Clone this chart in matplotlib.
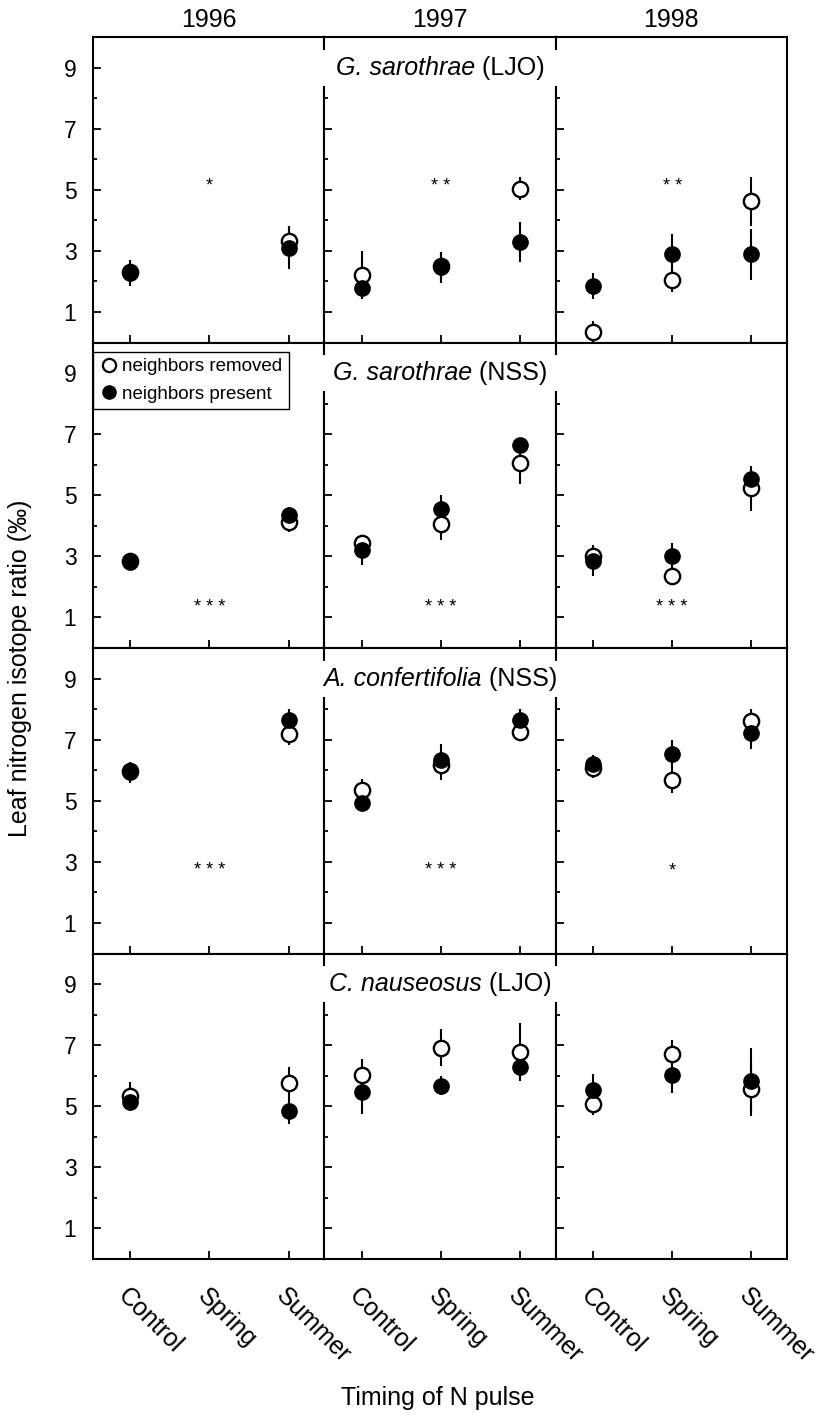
import matplotlib
matplotlib.use("Agg")
import matplotlib.pyplot as plt
import numpy as np
from matplotlib.patches import Rectangle
from matplotlib.lines import Line2D
from matplotlib.offsetbox import TextArea, HPacker, AnchoredOffsetbox

plt.rcParams.update({
    "font.family": ["Liberation Sans", "DejaVu Sans"],
    "axes.linewidth": 1.5,
})

YEARS = ["1996", "1997", "1998"]
TIMINGS = ["Control", "Spring", "Summer"]
SPECIES = ["G. sarothrae", "G. sarothrae", "A. confertifolia", "C. nauseosus"]
SITES = ["LJO", "NSS", "NSS", "LJO"]
nan = np.nan

# values per species: 1996 C/Sp/Su, 1997 C/Sp/Su, 1998 C/Sp/Su
gs_ljo_removed = [2.30, nan, 3.32, 2.21, 2.50, 5.03, 0.33, 2.06, 4.62]
gs_ljo_removed_se = [0.30, nan, 0.49, 0.77, 0.45, 0.38, 0.37, 0.41, 0.79]
gs_ljo_present = [2.28, nan, 3.11, 1.78, 2.46, 3.30, 1.86, 2.89, 2.89]
gs_ljo_present_se = [0.43, nan, 0.70, 0.35, 0.50, 0.65, 0.43, 0.65, 0.83]

gs_nss_removed = [2.85, nan, 4.14, 3.45, 4.07, 6.07, 3.00, 2.37, 5.23]
gs_nss_removed_se = [0.10, nan, 0.33, 0.20, 0.53, 0.71, 0.38, 0.30, 0.73]
gs_nss_present = [2.82, nan, 4.36, 3.21, 4.55, 6.63, 2.86, 3.00, 5.53]
gs_nss_present_se = [0.12, nan, 0.27, 0.50, 0.47, 0.20, 0.50, 0.45, 0.36]

ac_nss_removed = [5.98, nan, 7.17, 5.36, 6.18, 7.25, 6.07, 5.69, 7.61]
ac_nss_removed_se = [0.30, nan, 0.35, 0.36, 0.49, 0.30, 0.32, 0.42, 0.41]
ac_nss_present = [5.93, nan, 7.66, 4.92, 6.35, 7.66, 6.20, 6.53, 7.22]
ac_nss_present_se = [0.35, nan, 0.33, 0.15, 0.51, 0.33, 0.29, 0.47, 0.51]

cn_ljo_removed = [5.35, nan, 5.76, 6.03, 6.92, 6.79, 5.06, 6.71, 5.55]
cn_ljo_removed_se = [0.44, nan, 0.52, 0.52, 0.61, 0.94, 0.33, 0.47, 0.87]
cn_ljo_present = [5.14, nan, 4.83, 5.46, 5.68, 6.30, 5.54, 6.03, 5.84]
cn_ljo_present_se = [0.31, nan, 0.42, 0.70, 0.30, 0.46, 0.52, 0.60, 1.06]

# significance marks (per year) and their height
STARS = [["*", "**", "**"], ["***", "***", "***"], ["***", "***", "*"], ["", "", ""]]
STAR_Y = [5.27, 1.47, 2.86, 0]

ROWS = [
    (gs_ljo_removed, gs_ljo_removed_se, gs_ljo_present, gs_ljo_present_se),
    (gs_nss_removed, gs_nss_removed_se, gs_nss_present, gs_nss_present_se),
    (ac_nss_removed, ac_nss_removed_se, ac_nss_present, ac_nss_present_se),
    (cn_ljo_removed, cn_ljo_removed_se, cn_ljo_present, cn_ljo_present_se),
]

FS = 18
fig = plt.figure(figsize=(8.16, 14.18), dpi=100)
gs = fig.add_gridspec(4, 3, left=0.114, right=0.9645, top=0.9739, bottom=0.1121,
                      wspace=0, hspace=0)
x = np.arange(3)

for r, (rm, rm_se, pr, pr_se) in enumerate(ROWS):
    for c in range(3):
        ax = fig.add_subplot(gs[r, c])
        sl = slice(3 * c, 3 * c + 3)
        rmv, rme = np.array(rm[sl]), np.array(rm_se[sl])
        prv, pre = np.array(pr[sl]), np.array(pr_se[sl])
        ax.errorbar(x, rmv, yerr=rme, fmt="none", ecolor="k", elinewidth=1.5, zorder=1)
        ax.errorbar(x, prv, yerr=pre, fmt="none", ecolor="k", elinewidth=1.5, zorder=1)
        ax.plot(x, rmv, "o", ms=11, mfc="white", mec="k", mew=1.7, ls="none", zorder=2)
        ax.plot(x, prv, "o", ms=11, mfc="k", mec="k", mew=1.0, ls="none", zorder=3)
        if STARS[r][c]:
            ax.text(1, STAR_Y[r] - 0.15, " ".join(STARS[r][c]), ha="center", va="center",
                    fontsize=13)
        ax.set_xlim(-0.47, 2.45)
        ax.set_ylim(0, 10)
        ax.set_yticks([1, 3, 5, 7, 9])
        ax.set_yticks([2, 4, 6, 8], minor=True)
        ax.set_xticks(x)
        ax.tick_params(which="both", direction="in", top=False, right=False,
                       width=1.3, labelsize=16.5)
        ax.tick_params(which="major", length=6)
        ax.tick_params(which="minor", length=3)
        ax.tick_params(axis="y", pad=12)
        if c > 0:
            ax.tick_params(labelleft=False)
        if r < 3:
            ax.tick_params(labelbottom=False)
        else:
            ax.set_xticklabels(TIMINGS, rotation=-45, ha="left", va="top",
                               rotation_mode="anchor", fontsize=FS)
            ax.tick_params(axis="x", pad=18)
        if r == 0:
            ax.set_title(YEARS[c], fontsize=FS, pad=7)
        if c == 1:
            # white gap in the panel dividers behind the species name
            fig.add_artist(Rectangle((-0.06, 0.84), 1.12, 0.118, transform=ax.transAxes,
                                     facecolor="white", edgecolor="none", zorder=5))
            name = HPacker(children=[
                TextArea(SPECIES[r], textprops=dict(fontstyle="italic", fontsize=FS)),
                TextArea(" (" + SITES[r] + ")", textprops=dict(fontsize=FS)),
            ], align="baseline", pad=0, sep=0)
            anch = AnchoredOffsetbox(loc="center", child=name, pad=0.1, borderpad=0,
                                     frameon=True, bbox_to_anchor=(0.5, 0.9),
                                     bbox_transform=ax.transAxes)
            anch.patch.set_facecolor("white")
            anch.patch.set_edgecolor("none")
            anch.set_zorder(6)
            fig.add_artist(anch)
        if r == 1 and c == 0:
            handles = [
                Line2D([], [], marker="o", ls="none", ms=9.5, mfc="white", mec="k", mew=1.6),
                Line2D([], [], marker="o", ls="none", ms=9.5, mfc="k", mec="k"),
            ]
            leg = ax.legend(handles, ["neighbors removed", "neighbors present"],
                            loc="upper left", bbox_to_anchor=(0, 0.97), borderaxespad=0,
                            fontsize=13.5, fancybox=False, framealpha=1, handletextpad=0.2,
                            handlelength=1.0, borderpad=0.35, labelspacing=0.55)
            leg.get_frame().set_edgecolor("k")
            leg.get_frame().set_linewidth(1.0)

fig.text(0.024, 0.529, "Leaf nitrogen isotope ratio (\u2030)", rotation=90,
         ha="center", va="center", fontsize=FS)
fig.text(0.536, 0.0092, "Timing of N pulse", ha="center", va="baseline", fontsize=FS)

fig.savefig("out.png", dpi=100)
